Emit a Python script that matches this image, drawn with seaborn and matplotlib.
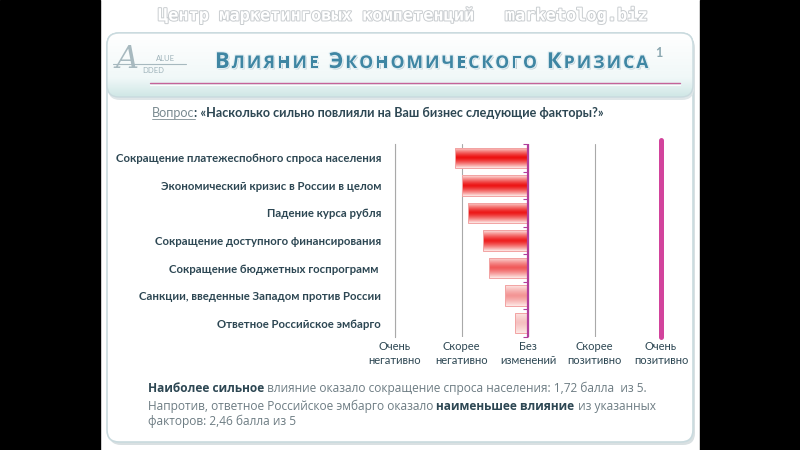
import numpy as np
import pandas as pd
import matplotlib
matplotlib.use("Agg")
import matplotlib.pyplot as plt
import seaborn as sns
from matplotlib.patches import FancyBboxPatch, Rectangle
import matplotlib.patheffects as pe
from matplotlib.colors import to_rgb

# ---------------- data ----------------
factors = [
    "Сокращение платежеспобного спроса населения",
    "Экономический кризис в России в целом",
    "Падение курса рубля",
    "Сокращение доступного финансирования",
    "Сокращение бюджетных госпрограмм ",
    "Санкции, введенные Западом против России",
    "Ответное Российское эмбарго",
]
scores = [1.90, 2.00, 2.10, 2.33, 2.42, 2.65, 2.81]
scale_values = [1, 2, 3, 4, 5]
scale_labels = ["Очень\nнегативно", "Скорее\nнегативно", "Без\nизменений",
                "Скорее\nпозитивно", "Очень\nпозитивно"]
neutral = 3
bar_centers = ["#ec1010", "#ec1414", "#ec1818", "#ee2020", "#f05a5a", "#f39494", "#f5c0c0"]

title_text = "Влияние экономического кризиса"
watermark = "Центр маркетинговых компетенций   marketolog.biz"

# ---------------- setup ----------------
sns.set_theme(style="white")
plt.rcParams["font.family"] = ["Lato", "DejaVu Sans"]

W, H = 800, 450
fig = plt.figure(figsize=(8, 4.5), dpi=100)
fig.patch.set_facecolor("white")
renderer = fig.canvas.get_renderer()

bg = fig.add_axes([0, 0, 1, 1])
bg.set_xlim(0, W)
bg.set_ylim(H, 0)
bg.axis("off")
bg.set_zorder(0)

# pillarbox
bg.add_patch(Rectangle((0, 0), 100, H, color="black", zorder=0))
bg.add_patch(Rectangle((700, 0), 100, H, color="black", zorder=0))

# panel shadow + panel
bg.add_patch(FancyBboxPatch((109, 36), 586, 409, boxstyle="round,pad=0,rounding_size=12",
                            fc="#d9e0e2", ec="none", zorder=1))
panel = FancyBboxPatch((107, 33), 586, 409, boxstyle="round,pad=0,rounding_size=12",
                       fc="white", ec="#c9dade", lw=1.2, zorder=2)
bg.add_patch(panel)

# header box with gradient
bg.add_patch(FancyBboxPatch((108, 36), 586, 64, boxstyle="round,pad=0,rounding_size=12",
                            fc="#dfe6e8", ec="none", zorder=2.5))
hdr = FancyBboxPatch((107, 33), 586, 64, boxstyle="round,pad=0,rounding_size=12",
                     fc="none", ec="#c9dade", lw=1.0, zorder=4)
bg.add_patch(hdr)
ys = np.linspace(0, 1, 80)
c_top, c_mid, c_bot = np.array(to_rgb("#ffffff")), np.array(to_rgb("#f1f8f8")), np.array(to_rgb("#cfe7e5"))
grad = np.where(ys[:, None] < 0.7,
                c_top + (c_mid - c_top) * (ys[:, None] / 0.7),
                c_mid + (c_bot - c_mid) * ((ys[:, None] - 0.7) / 0.3))
im = bg.imshow(grad[:, None, :], extent=[107, 693, 97, 33], aspect="auto", zorder=3, interpolation="bilinear")
im.set_clip_path(hdr)
bg.plot([150, 680], [83, 83], color="#c04a8a", lw=1.0, alpha=0.85, zorder=5)
bg.plot([150, 680], [84.5, 84.5], color="white", lw=0.8, alpha=0.9, zorder=5)

# watermark
bg.text(401, 15, watermark, ha="center", va="center", fontsize=12.2, family="DejaVu Sans Mono",
        fontweight="bold", color="white", zorder=5,
        path_effects=[pe.withStroke(linewidth=1.4, foreground="#c9cdd0")])

# logo
bg.text(127, 68, "A", fontsize=23, family="DejaVu Serif", style="italic", color="#a7b9bf",
        ha="center", va="baseline", zorder=6)
bg.text(156, 61, "ALUE", fontsize=5.5, color="#9fb3ba", ha="left", va="baseline", zorder=6)
bg.text(142, 73, "DDED", fontsize=5.5, color="#9fb3ba", ha="left", va="baseline", zorder=6)
bg.plot([113, 186], [64, 64], color="#a7b9bf", lw=0.8, zorder=6)


def rich(x, y, pieces, size, family=None, zorder=6, gap=0.0):
    for txt, color, weight, fs in pieces:
        t = bg.text(x, y, txt, fontsize=fs or size, color=color, fontweight=weight,
                    ha="left", va="baseline", zorder=zorder,
                    family=family if family else plt.rcParams["font.family"])
        x += t.get_window_extent(renderer).width + gap
    return x


# title in small caps
tx = 215
title_pe = [pe.withSimplePatchShadow(offset=(1, -1), shadow_rgbFace="#b9cbd2", alpha=0.9),
            pe.withStroke(linewidth=1.6, foreground="#e3eff3")]
for word in title_text.split(" "):
    for i, ch in enumerate(word):
        fs = 15.8 if i == 0 else 12.6
        t = bg.text(tx, 68, ch.upper(), fontsize=fs, color="#3f86a3", fontweight="bold",
                    ha="left", va="baseline", zorder=7, family=["Open Sans", "DejaVu Sans"],
                    path_effects=title_pe)
        tx += t.get_window_extent(renderer).width + 2.0
    tx += 8
bg.text(655, 57, "1", fontsize=9, color="#8aa7b0", fontweight="bold", zorder=7)

# question
qs = 9.1
q_x = rich(152, 117, [("Вопрос", "#7b8b91", "normal", None)], qs)
bg.plot([152, q_x], [119, 119], color="#7b8b91", lw=0.6, zorder=6)
rich(q_x, 117, [(": «Насколько сильно повлияли на Ваш бизнес следующие факторы?»", "#2d4753", "bold", None)], qs)

# bottom text
dark, grey = "#2d4753", "#6d7c83"
fam = ["Open Sans", "DejaVu Sans"]
bs = 8.6
rich(148, 392, [("Наиболее сильное", dark, "bold", None),
                (" влияние оказало сокращение спроса населения: 1,72 балла  из 5.", grey, "normal", None)],
     bs, family=fam)
rich(148, 410, [("Напротив, ответное Российское эмбарго оказало ", grey, "normal", None),
                ("наименьшее влияние", dark, "bold", None),
                (" из указанных", grey, "normal", None)], bs, family=fam)
rich(148, 425, [("факторов: 2,46 балла из 5", grey, "normal", None)], bs, family=fam)

# ---------------- chart ----------------
df = pd.DataFrame({"factor": factors, "delta": [s - neutral for s in scores]})
ax = fig.add_axes([395 / W, 1 - 337 / H, (661 - 395) / W, (337 - 144) / H])
ax.set_zorder(2)
ax.patch.set_alpha(0)
sns.barplot(data=df, x="delta", y="factor", orient="h", ax=ax, width=0.74,
            color="white", edgecolor="#f2a3a3", linewidth=0.7, saturation=1)

t = np.linspace(-1, 1, 60)
prof = np.clip(1 - np.abs(t) ** 1.3, 0, 1)
edge_c = np.array(to_rgb("#fde9e6"))
for patch, cc in zip(ax.patches, bar_centers):
    patch.set_facecolor("none")
    patch.set_zorder(4)
    x0, y0, w, h = patch.get_x(), patch.get_y(), patch.get_width(), patch.get_height()
    cen = np.array(to_rgb(cc))
    img = edge_c + (cen - edge_c) * prof[:, None]
    gi = ax.imshow(img[:, None, :], extent=[x0, x0 + w, y0 + h, y0], aspect="auto",
                   zorder=3, interpolation="bilinear")
    gi.set_clip_path(patch)

ax.set_xlim(-2, 2)
ax.set_ylim(len(factors) - 0.5, -0.5)
ax.set_xticks([v - neutral for v in scale_values])
ax.set_xticklabels(scale_labels)
ax.set_xlabel("")
ax.set_ylabel("")
ax.tick_params(axis="x", length=0, pad=3, labelsize=8, labelcolor="#2d4753")
ax.tick_params(axis="y", length=0, pad=10, labelsize=8.2, labelcolor="#2d4753")
for lb in ax.get_yticklabels():
    lb.set_fontweight("bold")
for lb in ax.get_xticklabels():
    lb.set_linespacing(1.3)

for s in ["top", "right", "bottom"]:
    ax.spines[s].set_visible(False)
ax.spines["left"].set_color("#a9a9a9")
ax.spines["left"].set_linewidth(0.8)
ax.xaxis.grid(True, color="#a9a9a9", lw=0.8)
ax.set_axisbelow(True)

ax.axvline(0, color="#b23e9c", lw=1.6, zorder=5)
ax.axvline(2, ymin=0, ymax=1.02, color="#d2439c", lw=3.6, zorder=5, clip_on=False)

sec = ax.secondary_yaxis(0.5)
sec.set_yticks(np.arange(-0.5, len(factors), 1.0))
sec.tick_params(length=3.5, direction="in", color="#b23e9c", width=0.8, labelleft=False, labelright=False)
sec.spines["left"].set_visible(False)
sec.spines["right"].set_visible(False)

fig.savefig("out.png", dpi=100, facecolor="white")
